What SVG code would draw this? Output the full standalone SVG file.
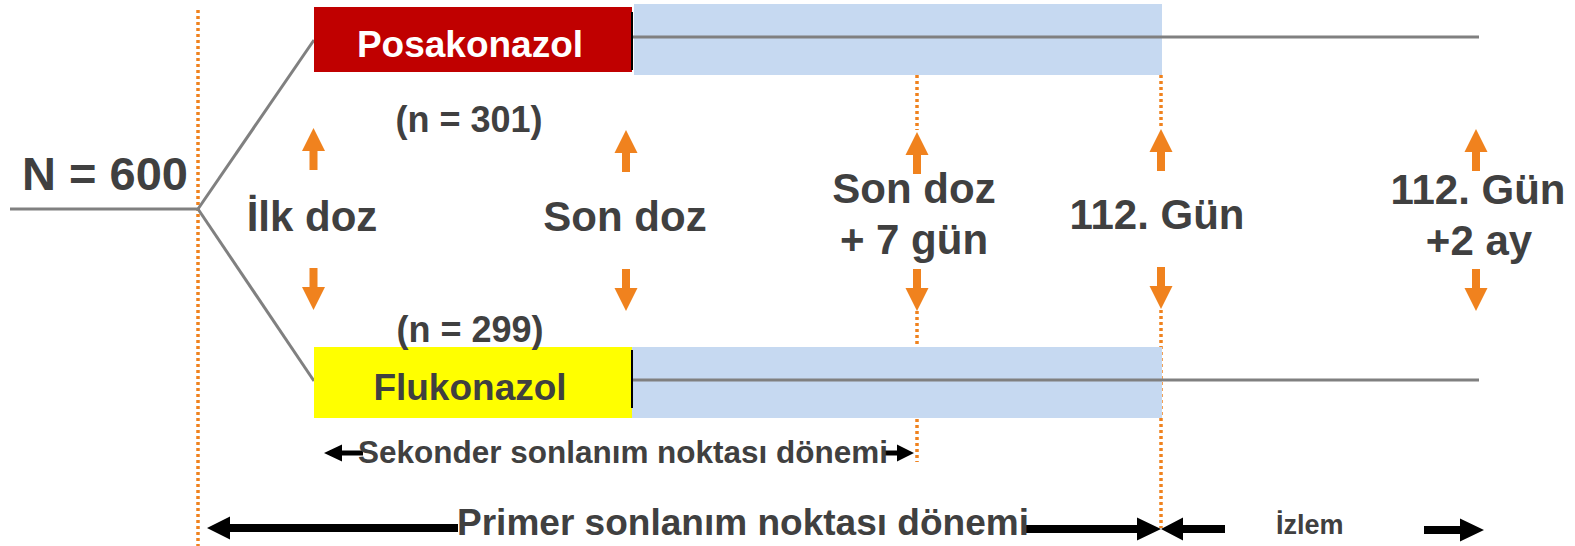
<svg xmlns="http://www.w3.org/2000/svg" width="1575" height="546" viewBox="0 0 1575 546">
<style>
.t{font-family:"Liberation Sans",Arial,sans-serif;font-weight:bold;fill:#404040}
.lbl{font-size:42px;text-anchor:middle}
.gray{stroke:#808080;stroke-width:3;fill:none}
.dot{stroke:#F0821E;stroke-width:3.5;stroke-dasharray:3 3;fill:none}
.oa{fill:#F0821E}
.blk{fill:#000}
</style>
<defs>
<path id="up" d="M0,0 L11.5,23 L4,23 L4,42 L-4,42 L-4,23 L-11.5,23 Z"/>
<path id="down" d="M0,0 L11.5,-23 L4,-23 L4,-42 L-4,-42 L-4,-23 L-11.5,-23 Z"/>
</defs>
<rect width="1575" height="546" fill="#fff"/>

<g id="guides">
<line class="dot" x1="198" y1="10" x2="198" y2="546"/>
<line class="dot" x1="917" y1="75" x2="917" y2="130"/>
<line class="dot" x1="917" y1="311" x2="917" y2="462"/>
<line class="dot" x1="1161" y1="75" x2="1161" y2="128"/>
<line class="dot" x1="1161" y1="310" x2="1161" y2="528"/>
</g>

<g id="connectors">
<line class="gray" x1="10" y1="209" x2="198" y2="209"/>
<line class="gray" x1="198" y1="209" x2="314" y2="40"/>
<line class="gray" x1="198" y1="209" x2="314" y2="381"/>
</g>

<g id="posakonazol">
<rect x="634" y="4" width="528" height="71" fill="#C6D9F1"/>
<rect x="314" y="7" width="318" height="65" fill="#C00000"/>
<line x1="632" y1="12" x2="632" y2="70" stroke="#000" stroke-width="2"/>
<line class="gray" x1="633" y1="37" x2="1479" y2="37"/>
<text class="t" x="470" y="57" font-size="37" text-anchor="middle" style="fill:#fff">Posakonazol</text>
</g>

<g id="flukonazol">
<rect x="632" y="347" width="530" height="71" fill="#C6D9F1"/>
<rect x="314" y="347" width="318" height="71" fill="#FFFF00"/>
<line x1="632" y1="350" x2="632" y2="408" stroke="#000" stroke-width="2"/>
<line class="gray" x1="633" y1="380" x2="1479" y2="380"/>
<text class="t" x="470" y="400" font-size="37" text-anchor="middle">Flukonazol</text>
</g>

<g id="n600">
<text class="t" x="22" y="190" font-size="47">N = 600</text>
</g>
<g id="n301"><text class="t" x="469" y="132" font-size="36" text-anchor="middle">(n = 301)</text></g>
<g id="n299"><text class="t" x="470" y="342" font-size="36" text-anchor="middle">(n = 299)</text></g>

<g id="ilkdoz">
<use href="#up" class="oa" x="313.5" y="128"/>
<use href="#down" class="oa" x="313.5" y="310"/>
<text class="t lbl" x="312" y="231">İlk doz</text>
</g>
<g id="sondoz">
<use href="#up" class="oa" x="626" y="130"/>
<use href="#down" class="oa" x="626" y="311"/>
<text class="t lbl" x="625" y="231">Son doz</text>
</g>
<g id="sondoz7">
<use href="#up" class="oa" x="917" y="132"/>
<use href="#down" class="oa" x="917" y="311"/>
<text class="t lbl" x="914" y="203">Son doz</text>
<text class="t lbl" x="914" y="254">+ 7 gün</text>
</g>
<g id="gun112">
<use href="#up" class="oa" x="1161" y="129"/>
<use href="#down" class="oa" x="1161" y="309"/>
<text class="t lbl" x="1157" y="229">112. Gün</text>
</g>
<g id="gun112ay2">
<use href="#up" class="oa" x="1476" y="129"/>
<use href="#down" class="oa" x="1476" y="311"/>
<text class="t lbl" x="1478" y="204">112. Gün</text>
<text class="t lbl" x="1479" y="255">+2 ay</text>
</g>

<g id="periods">
<path class="blk" d="M324,453 L342,444.5 L342,450.5 L363,450.5 L363,455.5 L342,455.5 L342,461.5 Z"/>
<path class="blk" d="M914,453 L897,444.5 L897,450.5 L884,450.5 L884,455.5 L897,455.5 L897,461.5 Z"/>
<text class="t" x="358" y="463" font-size="32" textLength="530" lengthAdjust="spacingAndGlyphs">Sekonder sonlanım noktası dönemi</text>

<path class="blk" d="M207,528 L230,516.5 L230,524 L458,524 L458,532 L230,532 L230,539.5 Z"/>
<path class="blk" d="M1161,529 L1137,517.5 L1137,525 L1026,525 L1026,533 L1137,533 L1137,540.5 Z"/>
<text class="t" x="457" y="535" font-size="36" textLength="572" lengthAdjust="spacingAndGlyphs">Primer sonlanım noktası dönemi</text>

<path class="blk" d="M1161,529 L1183,517.5 L1183,525 L1225,525 L1225,533 L1183,533 L1183,540.5 Z"/>
<path class="blk" d="M1484,530 L1460,518.5 L1460,526 L1424,526 L1424,534 L1460,534 L1460,541.5 Z"/>
<text class="t" x="1276" y="534" font-size="27">İzlem</text>
</g>
</svg>
